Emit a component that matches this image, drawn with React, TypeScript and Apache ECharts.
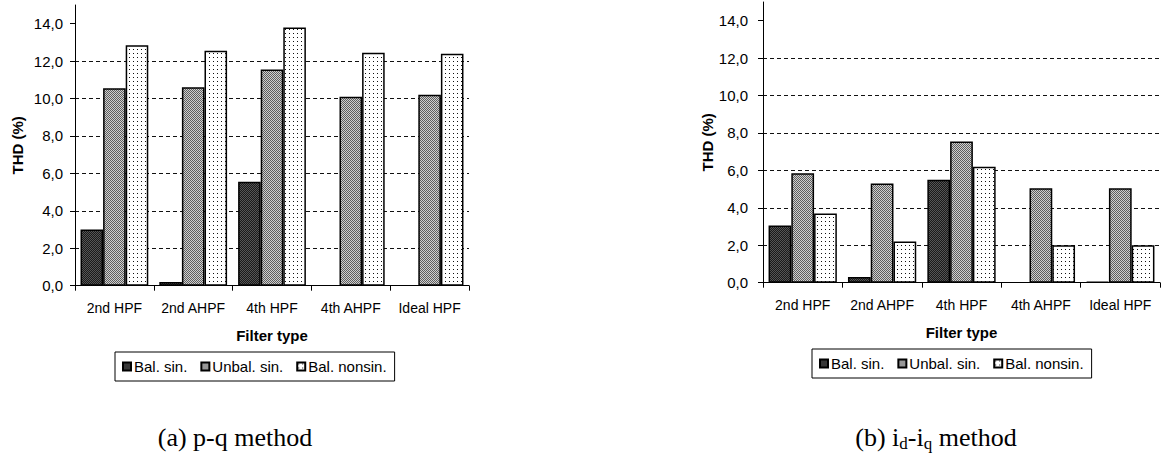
import React, { useEffect, useRef } from 'react';
import * as echarts from 'echarts';

const categories = ['2nd HPF', '2nd AHPF', '4th HPF', '4th AHPF', 'Ideal HPF'];
const seriesNames = ['Bal. sin.', 'Unbal. sin.', 'Bal. nonsin.'];

const pqBalSin = [3.0, 0.2, 5.55, 0, 0];
const pqUnbalSin = [10.55, 10.6, 11.55, 10.1, 10.2];
const pqBalNonsin = [12.85, 12.55, 13.8, 12.45, 12.4];

const idiqBalSin = [3.05, 0.3, 5.5, 0, 0.05];
const idiqUnbalSin = [5.85, 5.3, 7.55, 5.05, 5.05];
const idiqBalNonsin = [3.7, 2.2, 6.2, 2.0, 2.0];

const yTicks = [0, 2, 4, 6, 8, 10, 12, 14];

const xTitle = 'Filter type';
const yTitle = 'THD (%)';

function makePattern(size: number, draw: (ctx: CanvasRenderingContext2D) => void) {
  const c = document.createElement('canvas');
  c.width = size;
  c.height = size;
  const ctx = c.getContext('2d')!;
  draw(ctx);
  return { image: c.toDataURL(), repeat: 'repeat', imageWidth: size, imageHeight: size } as any;
}

export default function App() {
  const ref = useRef<HTMLDivElement>(null);

  useEffect(() => {
    if (!ref.current) return;
    const chart = echarts.init(ref.current, undefined, { renderer: 'svg' });

    const darkPat = makePattern(2, (ctx) => {
      ctx.fillStyle = '#1a1a1a';
      ctx.fillRect(0, 0, 2, 2);
      ctx.fillStyle = '#555555';
      ctx.fillRect(0, 0, 1, 1);
      ctx.fillRect(1, 1, 1, 1);
    });
    const grayPat = makePattern(2, (ctx) => {
      ctx.fillStyle = '#cfcfcf';
      ctx.fillRect(0, 0, 2, 2);
      ctx.fillStyle = '#5e5e5e';
      ctx.fillRect(0, 0, 1, 1);
      ctx.fillRect(1, 1, 1, 1);
    });
    const dotPat = makePattern(4, (ctx) => {
      ctx.fillStyle = '#ffffff';
      ctx.fillRect(0, 0, 4, 4);
      ctx.fillStyle = '#111111';
      ctx.fillRect(1, 1, 1, 1);
    });
    const patterns = [darkPat, grayPat, dotPat];

    const font = 'Arial, "Liberation Sans", sans-serif';

    const grids = [
      { left: 75, top: 5, width: 394, height: 280.7 },
      { left: 763, top: 2, width: 397, height: 280.7 },
    ];

    const fmt = (v: number) => v.toFixed(1).replace('.', ',');

    const xAxes = [0, 1].map((i) => ({
      type: 'category',
      gridIndex: i,
      data: categories,
      axisLine: { lineStyle: { color: '#000', width: 1 } },
      axisTick: { show: true, length: 5, lineStyle: { color: '#000' } },
      axisLabel: { color: '#000', fontSize: 14, fontFamily: font, margin: 15, interval: 0 },
      name: xTitle,
      nameLocation: 'middle',
      nameGap: 42,
      nameTextStyle: { color: '#000', fontSize: 15, fontWeight: 'bold', fontFamily: font },
      splitLine: { show: false },
    }));

    const yAxes = [0, 1].map((i) => ({
      type: 'value',
      gridIndex: i,
      min: 0,
      max: 15,
      interval: 1,
      axisLine: { show: true, lineStyle: { color: '#000', width: 1 } },
      axisTick: { show: true, length: 5, lineStyle: { color: '#000' }, customValues: yTicks },
      axisLabel: {
        color: '#000',
        fontSize: 15,
        fontFamily: font,
        margin: i === 0 ? 12 : 15,
        customValues: yTicks,
        formatter: fmt,
      },
      splitLine: {
        show: true,
        showMaxLine: false,
        showMinLine: false,
        lineStyle: { color: '#111', type: [4, 3], width: 1 },
      },
      name: yTitle,
      nameLocation: 'middle',
      nameGap: i === 0 ? 50 : 43,
      nameRotate: 90,
      nameTextStyle: { color: '#000', fontSize: 15, fontWeight: 'bold', fontFamily: font },
    }));

    const dataSets = [
      [pqBalSin, pqUnbalSin, pqBalNonsin],
      [idiqBalSin, idiqUnbalSin, idiqBalNonsin],
    ];

    const series: any[] = [];
    dataSets.forEach((sets, gi) => {
      sets.forEach((vals, si) => {
        series.push({
          type: 'bar',
          name: seriesNames[si],
          xAxisIndex: gi,
          yAxisIndex: gi,
          data: vals.map((v) => (v > 0 ? v : '-')),
          barGap: '0%',
          barCategoryGap: '14%',
          itemStyle: { color: patterns[si], borderColor: '#000', borderWidth: 1.5 },
          emphasis: { disabled: true },
        });
      });
    });

    const legendBase = {
      orient: 'horizontal',
      data: seriesNames,
      icon: 'rect',
      itemWidth: 8,
      itemHeight: 8,
      itemGap: 13,
      padding: [7, 8, 7, 7],
      borderColor: '#000',
      borderWidth: 1,
      borderRadius: 0,
      backgroundColor: '#fff',
      textStyle: { color: '#000', fontSize: 15, fontFamily: font, padding: [0, 0, 0, -2] },
      selectedMode: false,
    };

    const captionStyle = {
      fontFamily: '"Liberation Serif", "Times New Roman", serif',
      fontSize: 26,
      fill: '#000',
      align: 'center',
      verticalAlign: 'middle',
    };

    chart.setOption({
      animation: false,
      backgroundColor: '#fff',
      grid: grids,
      xAxis: xAxes,
      yAxis: yAxes,
      series,
      legend: [
        { ...legendBase, left: 115, top: 352 },
        { ...legendBase, left: 812, top: 349 },
      ],
      graphic: [
        {
          type: 'text',
          x: 235,
          y: 437,
          style: { ...captionStyle, text: '(a) p-q method' },
        },
        {
          type: 'text',
          x: 936,
          y: 437,
          style: {
            ...captionStyle,
            text: '(b) i{sub|d}-i{sub|q} method',
            rich: {
              sub: {
                fontFamily: '"Liberation Serif", "Times New Roman", serif',
                fontSize: 17,
                fill: '#000',
                verticalAlign: 'bottom',
                padding: [12, 0, 0, 0],
              },
            },
          },
        },
      ],
    });

    return () => chart.dispose();
  }, []);

  return (
    <div
      ref={ref}
      style={{ position: 'absolute', left: 0, top: 0, width: 1163, height: 454, background: '#fff' }}
    />
  );
}
